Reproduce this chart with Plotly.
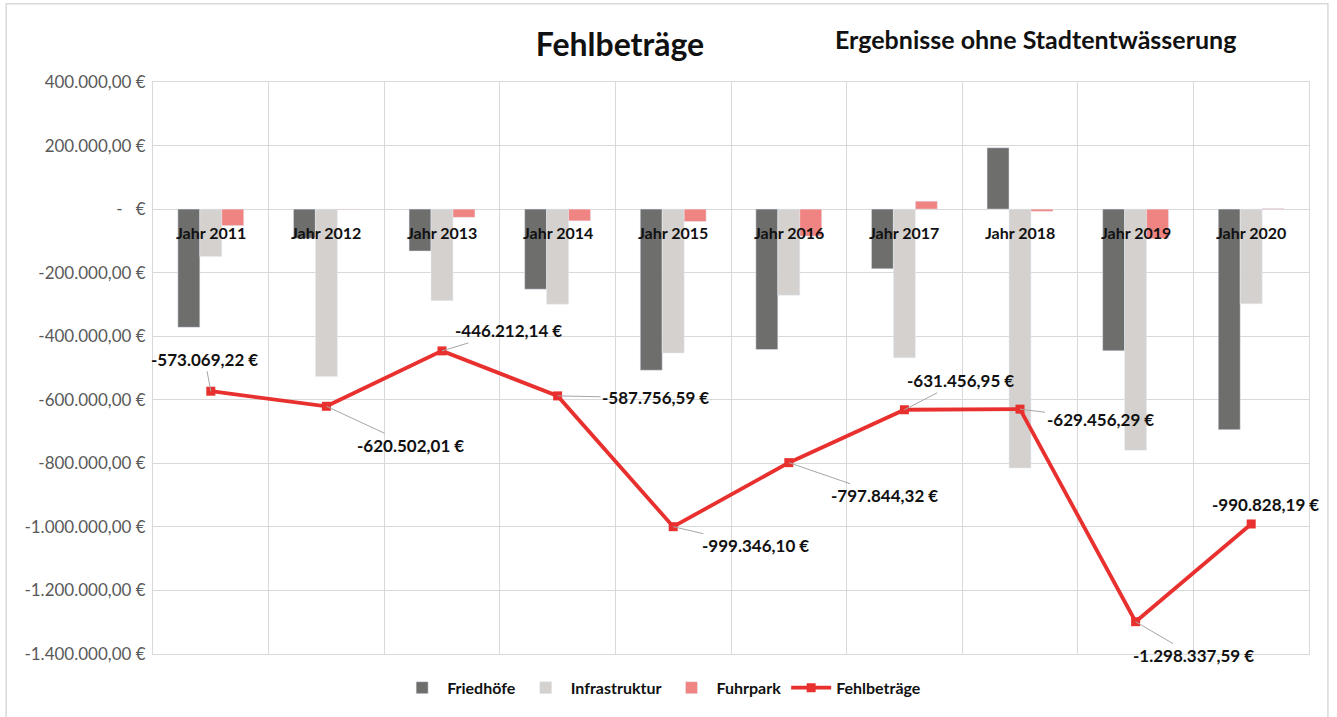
import plotly.graph_objects as go

# ---- data ----
years = ["Jahr 2011", "Jahr 2012", "Jahr 2013", "Jahr 2014", "Jahr 2015",
         "Jahr 2016", "Jahr 2017", "Jahr 2018", "Jahr 2019", "Jahr 2020"]
friedhoefe = [-372000, -92000, -132000, -252000, -507000, -442000, -188000, 193000, -446000, -694000]
infrastruktur = [-149000, -527000, -288000, -299000, -453000, -271000, -468000, -815000, -759000, -298000]
fuhrpark = [-52000, -1500, -26000, -37000, -39000, -85000, 25000, -7000, -93000, 2000]
fehlbetraege = [-573069.22, -620502.01, -446212.14, -587756.59, -999346.10,
                -797844.32, -631456.95, -629456.29, -1298337.59, -990828.19]
ytick_vals = [400000, 200000, 0, -200000, -400000, -600000, -800000,
              -1000000, -1200000, -1400000]
ytick_text = ["400.000,00 €", "200.000,00 €", "-   €", "-200.000,00 €", "-400.000,00 €",
              "-600.000,00 €", "-800.000,00 €", "-1.000.000,00 €", "-1.200.000,00 €",
              "-1.400.000,00 €"]
# label offsets (pixels) for data labels of the line
label_dx = [-6, 84, 66, 98, 82, 96, 56, 80, 58, 14]
label_dy = [-32, 39, -20, 2, 19, 33, -29, 10, 34, -19]

FONT = "Lato, 'Open Sans', sans-serif"


def de_eur(v):
    s = f"{v:,.2f}".replace(",", "X").replace(".", ",").replace("X", ".")
    return s + " €"


fig = go.Figure()
fig.add_trace(go.Bar(name="Friedhöfe", x=years, y=friedhoefe, marker_color="#6E6E6D"))
fig.add_trace(go.Bar(name="Infrastruktur", x=years, y=infrastruktur, marker_color="#D4D1CE"))
fig.add_trace(go.Bar(name="Fuhrpark", x=years, y=fuhrpark, marker_color="#F08482"))
fig.add_trace(go.Scatter(name="Fehlbeträge", x=years, y=fehlbetraege, mode="lines+markers",
                         line=dict(color="#E8312F", width=3.8),
                         marker=dict(symbol="square", size=9, color="#E8312F")))

annotations = []
for i, (yr, v) in enumerate(zip(years, fehlbetraege)):
    annotations.append(dict(
        x=yr, y=v, xref="x", yref="y", text="<b>" + de_eur(v) + "</b>",
        showarrow=True, arrowhead=0, arrowwidth=1,
        arrowcolor="rgba(0,0,0,0)" if i == len(years) - 1 else "#A6A6A6",
        ax=label_dx[i], ay=label_dy[i], font=dict(family=FONT, size=17, color="#111111")))
for yr in years:
    annotations.append(dict(x=yr, y=0, xref="x", yref="y", yshift=-23, showarrow=False,
                            text="<b>" + yr + "</b>",
                            font=dict(family=FONT, size=16, color="#111111")))
annotations.append(dict(x=0.763, y=1.076, xref="paper", yref="paper", showarrow=False,
                        xanchor="center", yanchor="middle",
                        text="<b>Ergebnisse ohne Stadtentwässerung</b>",
                        font=dict(family=FONT, size=25, color="#111111")))

fig.update_layout(
    width=1337, height=717,
    margin=dict(l=153, r=28, t=82, b=59),
    paper_bgcolor="white", plot_bgcolor="white",
    font=dict(family=FONT, size=14, color="#595959"),
    title=dict(text="<b>Fehlbeträge</b>", x=0.4637, xanchor="center",
               y=0.937, yanchor="middle",
               font=dict(family=FONT, size=32, color="#111111")),
    barmode="group", bargap=0.43, bargroupgap=0,
    showlegend=True,
    legend=dict(orientation="h", x=0.44, xanchor="center", y=-0.059, yanchor="middle",
                font=dict(family=FONT, size=16, color="#111111", weight="bold"),
                traceorder="normal", itemwidth=40),
    annotations=annotations,
    shapes=[dict(type="rect", xref="paper", yref="paper", x0=-0.127, x1=1.0164,
                 y0=-0.2, y1=1.137, line=dict(color="#D9D9D9", width=1.5), layer="below")],
)
fig.update_xaxes(showticklabels=False, tickson="boundaries", showgrid=True,
                 gridcolor="#D9D9D9", gridwidth=1, ticks="", showline=True,
                 linecolor="#D9D9D9", mirror=True, zeroline=False,
                 range=[-0.5, len(years) - 0.5], automargin=False)
fig.update_yaxes(range=[-1400000, 400000], tickvals=ytick_vals, ticktext=ytick_text,
                 showgrid=True, gridcolor="#D9D9D9", gridwidth=1, zeroline=True,
                 zerolinecolor="#D9D9D9", zerolinewidth=1, showline=True,
                 linecolor="#D9D9D9", mirror=True, ticks="", ticklabelstandoff=3,
                 automargin=False,
                 tickfont=dict(family=FONT, size=17, color="#595959"))

fig.write_html("out.html", config={"displayModeBar": False},
               post_script="document.body.style.margin='0';document.body.style.overflow='hidden';")
